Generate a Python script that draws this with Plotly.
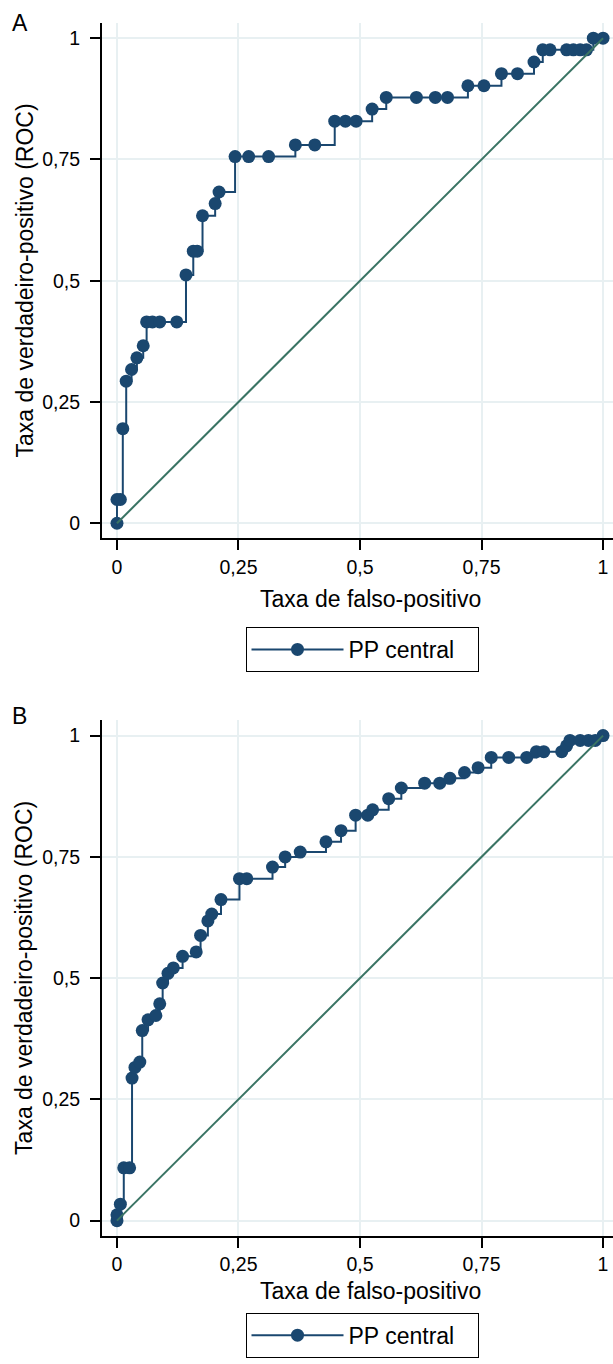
import plotly.graph_objects as go

# ---- data ----
A_fpr = [0, 0, 0.007, 0.012, 0.019, 0.030, 0.041, 0.054, 0.061, 0.073, 0.088, 0.123,
         0.142, 0.157, 0.165, 0.176, 0.202, 0.210, 0.243, 0.271, 0.312, 0.367, 0.407,
         0.448, 0.470, 0.492, 0.525, 0.554, 0.616, 0.655, 0.680, 0.722, 0.755, 0.791,
         0.824, 0.858, 0.876, 0.891, 0.925, 0.939, 0.953, 0.966, 0.980, 1.0]
A_tpr = [0, 0.049, 0.049, 0.195, 0.293, 0.317, 0.341, 0.366, 0.415, 0.415, 0.415, 0.415,
         0.512, 0.561, 0.561, 0.634, 0.659, 0.683, 0.756, 0.756, 0.756, 0.780, 0.780,
         0.829, 0.829, 0.829, 0.854, 0.878, 0.878, 0.878, 0.878, 0.902, 0.902, 0.927,
         0.927, 0.951, 0.976, 0.976, 0.976, 0.976, 0.976, 0.976, 1.0, 1.0]

B_fpr = [0, 0, 0.007, 0.014, 0.026, 0.031, 0.037, 0.047, 0.052, 0.064, 0.080, 0.088,
         0.094, 0.105, 0.116, 0.135, 0.163, 0.172, 0.187, 0.195, 0.214, 0.252, 0.267,
         0.320, 0.346, 0.377, 0.430, 0.461, 0.491, 0.516, 0.526, 0.559, 0.585, 0.633,
         0.664, 0.685, 0.715, 0.743, 0.770, 0.806, 0.843, 0.863, 0.878, 0.915, 0.925,
         0.932, 0.953, 0.970, 0.984, 1.0]
B_tpr = [0, 0.012, 0.034, 0.109, 0.109, 0.294, 0.316, 0.327, 0.392, 0.414, 0.423, 0.447,
         0.490, 0.510, 0.521, 0.545, 0.554, 0.588, 0.618, 0.632, 0.662, 0.705, 0.705,
         0.729, 0.750, 0.760, 0.781, 0.804, 0.836, 0.836, 0.847, 0.870, 0.892, 0.902,
         0.902, 0.912, 0.924, 0.934, 0.955, 0.955, 0.955, 0.967, 0.967, 0.967, 0.979,
         0.990, 0.990, 0.990, 0.990, 1.0]

ref_line = [0, 1]
tick_vals = [0, 0.25, 0.5, 0.75, 1]
tick_text = ["0", "0,25", "0,5", "0,75", "1"]

series_name = "PP central"
x_title = "Taxa de falso-positivo"
y_title = "Taxa de verdadeiro-positivo (ROC)"
panel_labels = ["A", "B"]

# ---- style ----
NAVY = "#1a476f"
DIAG = "#3a7464"
GRID = "#e8f0f2"
FONT = "Liberation Sans, Arial, Helvetica, sans-serif"
W, H = 613, 1364
L = 102

def py(px):
    return 1 - px / H

def pxx(px):
    return (px - L) / (W - L)

fig = go.Figure()

fig.add_trace(go.Scatter(x=A_fpr, y=A_tpr, mode="lines+markers", line_shape="hv",
                         line=dict(color=NAVY, width=2), marker=dict(color=NAVY, size=13),
                         name=series_name, xaxis="x", yaxis="y", legend="legend"))
fig.add_trace(go.Scatter(x=ref_line, y=ref_line, mode="lines",
                         line=dict(color=DIAG, width=2), showlegend=False,
                         xaxis="x", yaxis="y", hoverinfo="skip"))
fig.add_trace(go.Scatter(x=B_fpr, y=B_tpr, mode="lines+markers", line_shape="hv",
                         line=dict(color=NAVY, width=2), marker=dict(color=NAVY, size=13),
                         name=series_name, xaxis="x2", yaxis="y2", legend="legend2"))
fig.add_trace(go.Scatter(x=ref_line, y=ref_line, mode="lines",
                         line=dict(color=DIAG, width=2), showlegend=False,
                         xaxis="x2", yaxis="y2", hoverinfo="skip"))

xr = [-0.0308, 1.0205]
yr = [-0.031, 1.032]

axis_common = dict(showline=True, linecolor="black", linewidth=2, mirror=False,
                   ticks="outside", ticklen=10, tickwidth=2, tickcolor="black",
                   showgrid=True, gridcolor=GRID, gridwidth=2, zeroline=False,
                   tickvals=tick_vals, ticktext=tick_text,
                   tickfont=dict(family=FONT, size=19.5, color="black"))

# pixel geometry of the two panels
A_top, A_bot = 22.7, 538.3
B_top, B_bot = 720.1, 1235.7

legend_common = dict(xanchor="center", yanchor="top", orientation="h",
                     bordercolor="black", borderwidth=1, bgcolor="white",
                     font=dict(family=FONT, size=23, color="black"),
                     itemwidth=92, entrywidth=124)

fig.update_layout(
    width=W, height=H,
    margin=dict(l=L, r=0, t=0, b=0, autoexpand=False),
    paper_bgcolor="white", plot_bgcolor="white",
    font=dict(family=FONT, color="black"),
    xaxis=dict(domain=[0, 1], range=xr, anchor="y", ticklabelstandoff=0, **axis_common),
    yaxis=dict(domain=[py(A_bot), py(A_top)], range=yr, anchor="x", ticklabelstandoff=6, **axis_common),
    xaxis2=dict(domain=[0, 1], range=xr, anchor="y2", ticklabelstandoff=0, **axis_common),
    yaxis2=dict(domain=[py(B_bot), py(B_top)], range=yr, anchor="x2", ticklabelstandoff=6, **axis_common),
    legend=dict(x=pxx(362), y=py(627), **legend_common),
    legend2=dict(x=pxx(362), y=py(1312.7), **legend_common),
    showlegend=True,
)

ann = []
# panel letters
ann.append(dict(text=panel_labels[0], x=pxx(10), y=py(23), xref="paper", yref="paper",
                xanchor="left", yanchor="middle", showarrow=False, font=dict(size=23)))
ann.append(dict(text=panel_labels[1], x=pxx(10), y=py(715.5), xref="paper", yref="paper",
                xanchor="left", yanchor="middle", showarrow=False, font=dict(size=23)))
# axis titles
for ycap, ymid in [(599.5, (A_top + A_bot) / 2), (1291, (B_top + B_bot) / 2)]:
    ann.append(dict(text=x_title, x=pxx(370), y=py(ycap), xref="paper", yref="paper",
                    xanchor="center", yanchor="middle", showarrow=False, font=dict(size=23)))
    ann.append(dict(text=y_title, x=pxx(24), y=py(ymid), xref="paper", yref="paper",
                    xanchor="center", yanchor="middle", showarrow=False, textangle=-90,
                    font=dict(size=23)))
fig.update_layout(annotations=ann)

fig.write_html("out.html",
               config={"displayModeBar": False},
               post_script="document.body.style.margin='0';"
                           "document.documentElement.style.overflow='hidden';")
